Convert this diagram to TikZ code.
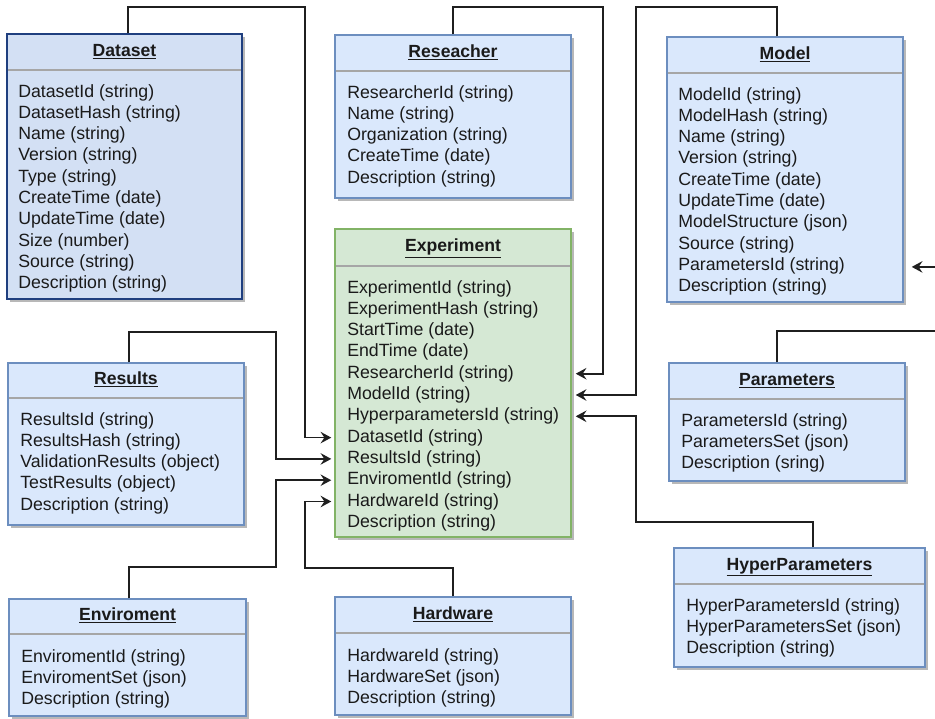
\documentclass[tikz,border=0pt]{standalone}
\usepackage{fontspec}
\setmainfont{Liberation Sans}
\usetikzlibrary{shadows,arrows.meta,calc}
\definecolor{bfill}{HTML}{DAE8FC}
\definecolor{bdraw}{HTML}{6C8EBF}
\definecolor{dfill}{HTML}{D3E0F4}
\definecolor{ddraw}{HTML}{1F3F7F}
\definecolor{gfill}{HTML}{D5E8D4}
\definecolor{gdraw}{HTML}{82B366}
\definecolor{sepc}{HTML}{A6A6A6}
\definecolor{txt}{HTML}{1A1A1A}
\tikzset{
 ent/.style={draw=bdraw, fill=bfill, line width=1.1pt, inner sep=0pt,
   drop shadow={shadow xshift=2.6pt, shadow yshift=-2.6pt, fill=black!28, opacity=1}},
 dent/.style={ent, draw=ddraw, fill=dfill, line width=1.3pt},
 gent/.style={ent, draw=gdraw, fill=gfill},
 sepline/.style={draw=sepc, line width=1.1pt},
 ttl/.style={font=\fontsize{13.2}{16}\selectfont\bfseries, text=txt, inner sep=0pt, text height=9.6pt, text depth=2.8pt},
 rowtxt/.style={font=\fontsize{13.3}{16}\selectfont, text=txt, anchor=west, inner sep=0pt, text height=9.6pt, text depth=2.8pt},
 conn/.style={line width=1.25pt, draw=black!88},
 arr/.style={conn, -{Stealth[length=8pt,width=8.6pt,inset=2.8pt]}},
}
% name x1 y1 x2 y2 sep style title
\newcommand\entity[8]{%
 \node[#7, minimum width={(#4-#2)*0.75pt}, minimum height={(#5-#3)*0.75pt}] (#1) at ({(#2+#4)/2},{(#3+#5)/2}) {};
 \draw[sepline] (#2+0.8,#6) -- (#4-0.8,#6);
 \node[ttl] (#1-t) at ({(#2+#4)/2},{(#3+#6)/2-0.5}) {\underline{#8}};
}
% name x y0 list
\newcommand\entrows[4]{%
 \foreach \t [count=\i] in {#4} {\node[rowtxt] (#1-\i) at (#2,{#3+1.5+(\i-1)*21.3}) {\t};}
}
\begin{document}
\begin{tikzpicture}[x=0.75pt,y=-0.75pt]
\useasboundingbox (0,0) rectangle (935,718);
\clip (0,0) rectangle (935,718);

\entity{ds}{7}{34}{242}{299}{70}{dent}{Dataset}
\entrows{ds}{18}{91}{DatasetId (string),DatasetHash (string),Name (string),Version (string),Type (string),CreateTime (date),UpdateTime (date),Size (number),Source (string),Description (string)}

\entity{rs}{335}{35}{571}{198}{71}{ent}{Reseacher}
\entrows{rs}{347}{92}{ResearcherId (string),Name (string),Organization (string),CreateTime (date),Description (string)}

\entity{md}{667}{37}{903}{302}{73}{ent}{Model}
\entrows{md}{678}{94}{ModelId (string),ModelHash (string),Name (string),Version (string),CreateTime (date),UpdateTime (date),ModelStructure (json),Source (string),ParametersId (string),Description (string)}

\entity{ex}{335}{229}{571}{537}{266}{gent}{Experiment}
\entrows{ex}{347}{287}{ExperimentId (string),ExperimentHash (string),StartTime (date),EndTime (date),ResearcherId (string),ModelId (string),HyperparametersId (string),DatasetId (string),ResultsId (string),EnviromentId (string),HardwareId (string),Description (string)}

\entity{rl}{8}{363}{244}{525}{398}{ent}{Results}
\entrows{rl}{20}{419}{ResultsId (string),ResultsHash (string),ValidationResults (object),TestResults (object),Description (string)}

\entity{pm}{669}{363}{905}{481}{399}{ent}{Parameters}
\entrows{pm}{681}{420}{ParametersId (string),ParametersSet (json),Description (sring)}

\entity{hp}{674}{548}{925}{667}{584}{ent}{HyperParameters}
\entrows{hp}{686}{605}{HyperParametersId (string),HyperParametersSet (json),Description (string)}

\entity{ev}{9}{599}{246}{716}{634}{ent}{Enviroment}
\entrows{ev}{21}{656}{EnviromentId (string),EnviromentSet (json),Description (string)}

\entity{hw}{335}{597}{571}{715}{633}{ent}{Hardware}
\entrows{hw}{347}{655}{HardwareId (string),HardwareSet (json),Description (string)}

% connectors
\draw[arr] (128,0 |- ds.north) -- (128,7) -- (305,7) |- ($(ex.west |- ex-8)+(-3,0)$);
\draw[arr] (453,0 |- rs.north) -- (453,7) -- (603,7) |- ($(ex.east |- ex-5)+(4,0)$);
\draw[arr] (777,0 |- md.north) -- (777,7) -- (636,7) |- ($(ex.east |- ex-6)+(4,0)$);
\draw[arr] (813,0 |- hp.north) -- (813,522) -- (636,522) |- ($(ex.east |- ex-7)+(4,0)$);
\draw[arr] (129,0 |- rl.north) -- (129,332) -- (276,332) |- ($(ex.west |- ex-9)+(-3,0)$);
\draw[arr] (129,0 |- ev.north) -- (129,567) -- (276,567) |- ($(ex.west |- ex-10)+(-3,0)$);
\draw[arr] (453,0 |- hw.north) -- (453,568) -- (305,568) |- ($(ex.west |- ex-11)+(-3,0)$);
\draw[arr] (777,0 |- pm.north) -- (777,331) -- (950,331) |- ($(md.east |- md-9)+(8,1)$);
\end{tikzpicture}
\end{document}
